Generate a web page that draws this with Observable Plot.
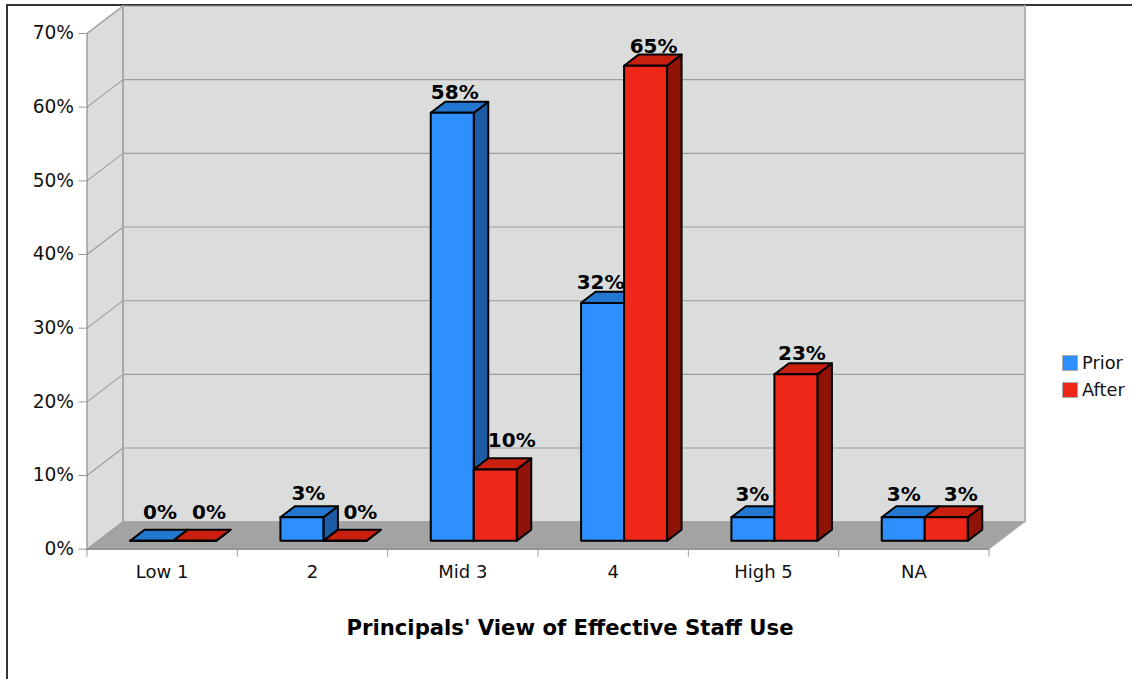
<!DOCTYPE html>
<html>
<head>
<meta charset="utf-8">
<script src="https://cdn.jsdelivr.net/npm/d3@7"></script>
<script src="https://cdn.jsdelivr.net/npm/@observablehq/plot@0.6"></script>
<style>
  html, body { margin: 0; padding: 0; background: #fff; }
  body { width: 1132px; height: 679px; overflow: hidden; position: relative; font-family: "DejaVu Sans", sans-serif; color: #111; }
  #frame { position: absolute; left: 6px; top: 4px; right: 0; bottom: 0; border-left: 2px solid #333; border-top: 2px solid #333; }
  #chart { position: absolute; left: 0; top: 0; }
  #chart svg { display: block; }
  #caption { position: absolute; left: 270px; width: 600px; top: 614px; text-align: center; font-weight: bold; font-size: 21.2px; line-height: 28px; color: #000; }
  .legend { position: absolute; left: 1062px; font-size: 17.8px; line-height: 20px; white-space: nowrap; }
  .legend i { position: absolute; left: 0; top: 2px; width: 14px; height: 14px; border: 1px solid #aaa; box-sizing: content-box; }
  .legend span { position: absolute; left: 20px; top: 0; }
</style>
</head>
<body>
<div id="frame"></div>
<div id="chart"></div>
<div id="caption"></div>
<div class="legend" id="lg0" style="top:353px"></div>
<div class="legend" id="lg1" style="top:380px"></div>
<script>
// ---- data ----
const categories = ["Low 1", "2", "Mid 3", "4", "High 5", "NA"];
const seriesNames = ["Prior", "After"];
const priorValues = [0, 3.2, 58.1, 32.3, 3.2, 3.2];
const afterValues = [0, 0, 9.7, 64.5, 22.6, 3.2];
const priorLabels = ["0%", "3%", "58%", "32%", "3%", "3%"];
const afterLabels = ["0%", "0%", "10%", "65%", "23%", "3%"];
const yTicks = [0, 10, 20, 30, 40, 50, 60, 70];
const xTitle = "Principals' View of Effective Staff Use";

// ---- appearance ----
const pxPerCategory = 150.33, pxPerPercent = 7.367;
const depthX = 36 / pxPerCategory, depthY = 27.5 / pxPerPercent;   // oblique projection of the chart depth
const barDepth = [0.303, 0.706], barSpan = [0.214, 0.5, 0.786];
const palette = [
  {front: "#2e8fff", top: "#2277d0", side: "#1b5ca5"},
  {front: "#ee2718", top: "#c81f0e", side: "#8f1307"}
];
// hand placement of value labels, pixels from the centre of the bar's front face
const labelShiftX = [[8.5, 6.5, 2.5, -2, -0.5, 0.5], [14.5, 15.5, 16.5, 8, 6, 14.5]];
const labelShiftY = [[11, 6, 3, 3, 5, 5], [11, 11, 11, 2, 3, 5]];

const project = (x, v, d) => ({x: x + d * depthX, y: v + d * depthY});
const poly = (id, fill, corners) => corners.map(([x, v, d]) => ({id, fill, ...project(x, v, d)}));
const nCat = categories.length, yMax = yTicks[yTicks.length - 1];

// chart box
const wallFaces = [
  ...poly("back", "#dbdddc", [[0, 0, 1], [nCat, 0, 1], [nCat, yMax, 1], [0, yMax, 1]]),
  ...poly("left", "#dbdddc", [[0, 0, 0], [0, 0, 1], [0, yMax, 1], [0, yMax, 0]]),
  ...poly("floor", "#a3a3a3", [[0, 0, 0], [nCat, 0, 0], [nCat, 0, 1], [0, 0, 1]])
];
const gridLines = yTicks.flatMap(t => [
  ...poly("g" + t, null, [[0, t, 0], [0, t, 1], [nCat, t, 1]])
]);

// bars
const seriesValues = [priorValues, afterValues];
const barFaces = categories.flatMap((c, i) => seriesValues.flatMap((vals, s) => {
  const v = vals[i], x0 = i + barSpan[s], x1 = i + barSpan[s + 1], [d0, d1] = barDepth, p = palette[s], k = i + "-" + s;
  return [
    ...poly(k + "side", p.side, [[x1, 0, d0], [x1, 0, d1], [x1, v, d1], [x1, v, d0]]),
    ...poly(k + "top", p.top, [[x0, v, d0], [x1, v, d0], [x1, v, d1], [x0, v, d1]]),
    ...poly(k + "front", p.front, [[x0, 0, d0], [x1, 0, d0], [x1, v, d0], [x0, v, d0]])
  ];
}));

const valueLabels = categories.flatMap((c, i) => seriesValues.map((vals, s) => {
  const q = project(i + (barSpan[s] + barSpan[s + 1]) / 2, vals[i], barDepth[1]);
  const front = project(i + (barSpan[s] + barSpan[s + 1]) / 2, vals[i], barDepth[0]);
  return {
    text: (s ? afterLabels : priorLabels)[i],
    x: front.x + labelShiftX[s][i] / pxPerCategory,
    y: q.y + labelShiftY[s][i] / pxPerPercent
  };
}));

const chart = Plot.plot({
  width: 1132, height: 600,
  marginLeft: 86.5, marginRight: 143.5, marginTop: 33, marginBottom: 51.3,
  style: {fontFamily: "DejaVu Sans, sans-serif", background: "transparent", overflow: "visible"},
  color: {type: "identity"},
  x: {type: "linear", domain: [0, nCat], label: null},
  y: {type: "linear", domain: [0, yMax], label: null},
  marks: [
    Plot.line(wallFaces, {x: "x", y: "y", z: "id", fill: "fill", stroke: null, curve: "linear-closed"}),
    Plot.line(gridLines, {x: "x", y: "y", z: "id", stroke: "#9b9b9b", strokeWidth: 1.1}),
    Plot.line(poly("e1", null, [[0, 0, 0], [0, yMax, 0]]), {x: "x", y: "y", stroke: "#8a8a8a", strokeWidth: 1.2}),
    Plot.line(poly("e2", null, [[0, 0, 1], [0, yMax, 1]]), {x: "x", y: "y", stroke: "#a8a8a8", strokeWidth: 2}),
    Plot.line(poly("e3", null, [[nCat, 0, 1], [nCat, yMax, 1]]), {x: "x", y: "y", stroke: "#b4b4b4", strokeWidth: 2}),
    Plot.line(poly("e4", null, [[0, 0, 0], [nCat, 0, 0]]), {x: "x", y: "y", stroke: "#808080", strokeWidth: 1.2}),
    Plot.line(poly("e5", null, [[nCat, 0, 0], [nCat, 0, 1]]), {x: "x", y: "y", stroke: "#b8b8b8", strokeWidth: 1}),
    Plot.line(poly("e6", null, [[0, yMax, 0], [0, yMax, 1]]), {x: "x", y: "y", stroke: "#a8a8a8", strokeWidth: 1.5}),
    Plot.line(barFaces, {x: "x", y: "y", z: "id", fill: "fill", stroke: "#000", strokeWidth: 2, strokeLinejoin: "round", curve: "linear-closed"}),
    Plot.text(valueLabels, {x: "x", y: "y", text: "text", fontWeight: "bold", fontSize: 20, fill: "#000", lineAnchor: "bottom", textAnchor: "middle"}),
    Plot.axisY({ticks: yTicks, tickFormat: d => d + "%", tickSize: 8, tickPadding: 5, fontSize: 18.6, stroke: "#999", label: null}),
    Plot.axisX({ticks: d3.range(nCat + 1), tickSize: 8, stroke: "#999", fill: "none", label: null}),
    Plot.axisX({ticks: categories.map((c, i) => i + 0.5), tickFormat: d => categories[d - 0.5], tickSize: 0, tickPadding: 16, fontSize: 18, label: null})
  ]
});
document.getElementById("chart").appendChild(chart);
document.getElementById("caption").textContent = xTitle;
seriesNames.forEach((n, s) => {
  const el = document.getElementById("lg" + s);
  el.innerHTML = `<i style="background:${palette[s].front}"></i><span>${n}</span>`;
});
</script>
</body>
</html>
